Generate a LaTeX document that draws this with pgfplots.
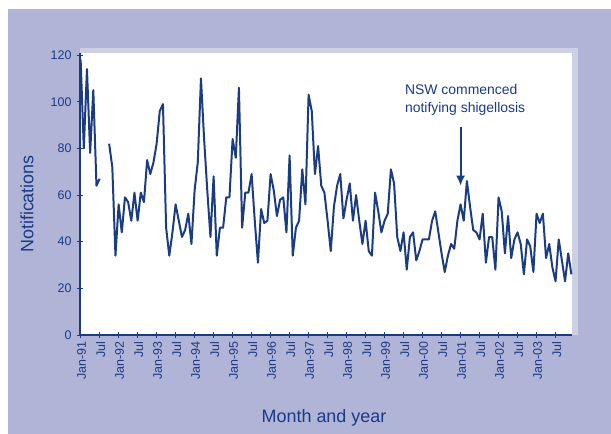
\documentclass[border=0pt]{standalone}
\usepackage{pgfplots}
\usepackage{pgfplotstable}
\pgfplotsset{compat=1.18}
\usetikzlibrary{arrows.meta}
\usepackage{fontspec}
\setmainfont{Liberation Sans}
\definecolor{panel}{HTML}{B0B4D6}
\definecolor{framec}{HTML}{CDCFE3}
\definecolor{navy}{HTML}{1A3A86}
\definecolor{linec}{HTML}{1B3C80}

\pgfplotstableread{
m v
0 118
1 80
2 114
3 78
4 105
5 64
6 67
7 nan
8 nan
9 82
10 72
11 34
12 56
13 44
14 59
15 57
16 49
17 61
18 49
19 61
20 57
21 75
22 69
23 74
24 82
25 96
26 99
27 46
28 34
29 44
30 56
31 49
32 42
33 45
34 52
35 39
36 62
37 74
38 110
39 84
40 62
41 42
42 68
43 34
44 46
45 46
46 59
47 59
48 84
49 76
50 106
51 46
52 61
53 61
54 69
55 49
56 31
57 54
58 48
59 49
60 69
61 62
62 51
63 58
64 59
65 44
66 77
67 34
68 46
69 49
70 71
71 56
72 103
73 96
74 69
75 81
76 64
77 61
78 49
79 36
80 55
81 64
82 69
83 50
84 58
85 65
86 49
87 60
88 49
89 39
90 49
91 36
92 34
93 61
94 53
95 44
96 49
97 52
98 71
99 65
100 42
101 36
102 44
103 28
104 42
105 44
106 32
107 36
108 41
109 41
110 41
111 49
112 53
113 44
114 35
115 27
116 34
117 39
118 37
119 49
120 56
121 49
122 66
123 55
124 45
125 44
126 41
127 52
128 31
129 42
130 42
131 28
132 59
133 53
134 35
135 51
136 33
137 41
138 44
139 39
140 26
141 41
142 38
143 27
144 52
145 48
146 52
147 33
148 39
149 29
150 23
151 41
152 32
153 23
154 35
155 26
}\data

\begin{document}
\begin{tikzpicture}[x=1bp,y=1bp]
\fill[white] (0,0) rectangle (611,434);
\fill[panel] (8,0) rectangle (611,425);
\fill[framec] (80,99) rectangle (578,386);
\begin{axis}[
  at={(80bp,99bp)}, anchor=south west,
  scale only axis, width=492bp, height=282bp,
  xmin=-0.2, xmax=155.2, ymin=0, ymax=120.9,
  axis background/.style={fill=white},
  axis x line*=bottom, axis y line*=left,
  axis line style={linec, line width=1.4pt},
  every tick/.style={navy, line width=0.9pt},
  tick align=center, major tick length=6bp,
  ytick={0,20,...,120},
  xtick={0,6,...,150},
  xticklabels={Jan-91,Jul,Jan-92,Jul,Jan-93,Jul,Jan-94,Jul,Jan-95,Jul,Jan-96,Jul,Jan-97,Jul,Jan-98,Jul,Jan-99,Jul,Jan-00,Jul,Jan-01,Jul,Jan-02,Jul,Jan-03,Jul},
  tick label style={text=navy, font=\fontsize{12.5}{14}\selectfont},
  /pgf/number format/assume math mode=true,
  yticklabel style={xshift=-2bp},
  xticklabel style={rotate=90, anchor=east, yshift=-1bp},
  unbounded coords=jump,
  clip=false,
]
\addplot[linec, line width=2pt, line join=round] table[x=m, y=v] {\data};
\draw[-{Latex[length=10bp,width=9bp]}, linec, line width=2pt] (axis cs:120,89) -- (axis cs:120,64);
\node[anchor=base west, text=navy, font=\fontsize{14}{16}\selectfont, inner sep=0pt] at (axis cs:102.4,102.9) {NSW commenced};
\node[anchor=base west, text=navy, font=\fontsize{14}{16}\selectfont, inner sep=0pt] at (axis cs:102.4,95.6) {notifying shigellosis};
\end{axis}
\node[rotate=90, text=navy, font=\fontsize{18}{20}\selectfont] at (27,230) {Notifications};
\node[text=navy, font=\fontsize{18}{20}\selectfont] at (324,16) {Month and year};
\end{tikzpicture}
\end{document}
